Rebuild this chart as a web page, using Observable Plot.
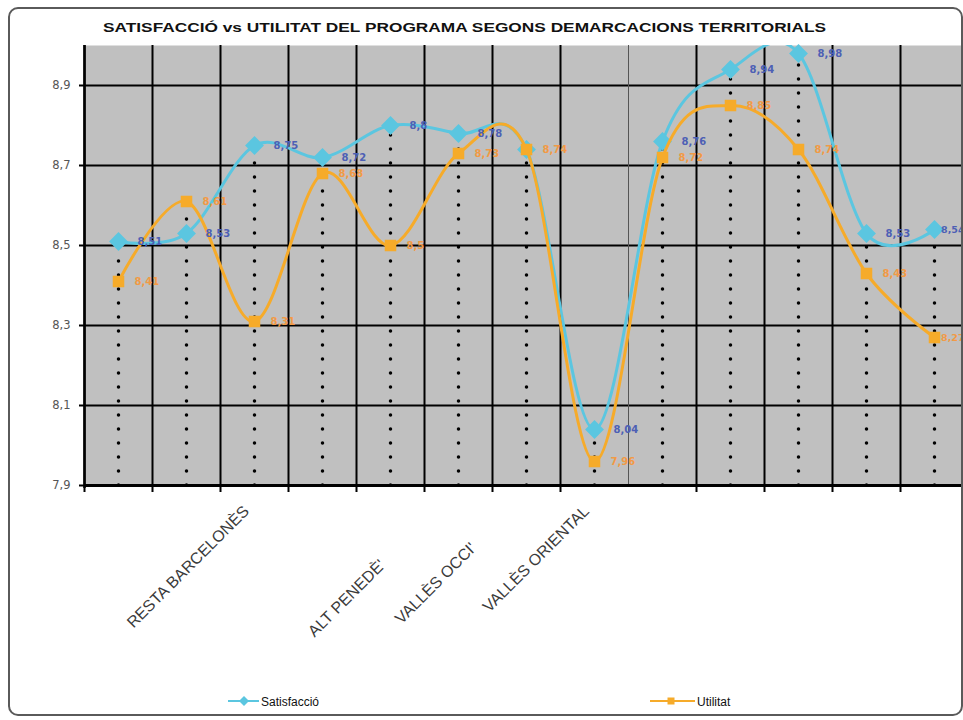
<!DOCTYPE html>
<html>
<head>
<meta charset="utf-8">
<script src="https://cdn.jsdelivr.net/npm/d3@7"></script>
<script src="https://cdn.jsdelivr.net/npm/@observablehq/plot@0.6"></script>
<style>
  html, body { margin: 0; padding: 0; background: #fff; }
  #wrap { position: relative; width: 963px; height: 720px; overflow: hidden; background: #fff; }
  #chart { position: absolute; left: 0; top: 0; }
  #frame { position: absolute; left: 8px; top: 7px; width: 951px; height: 705px; border: 2px solid #5a5a5a; border-radius: 10px; pointer-events: none; }
  .overlay { position: absolute; left: 0; top: 0; pointer-events: none; }
</style>
</head>
<body>
<div id="wrap">
  <div id="chart"></div>
  <div id="frame"></div>
  <svg class="overlay" width="963" height="720" id="over"></svg>
</div>
<script>
// ---- data ----
const title = "SATISFACCIÓ vs UTILITAT DEL PROGRAMA SEGONS DEMARCACIONS TERRITORIALS";
const categoryLabels = ["", "", "RESTA BARCELONÈS", "", "ALT PENEDÈ'", "VALLÈS OCCI'", "", "VALLÈS ORIENTAL", "", "", "", "", ""];
const satisfaccio = [8.51, 8.53, 8.75, 8.72, 8.8, 8.78, 8.74, 8.04, 8.76, 8.94, 8.98, 8.53, 8.54];
const utilitat    = [8.41, 8.61, 8.31, 8.68, 8.5, 8.73, 8.74, 7.96, 8.72, 8.85, 8.74, 8.43, 8.27];
const yTicks = [7.9, 8.1, 8.3, 8.5, 8.7, 8.9];
const seriesNames = ["Satisfacció", "Utilitat"];

// ---- derived tables ----
const n = categoryLabels.length;
const idx = categoryLabels.map((_, i) => i + 1);
const sat = idx.map((c, i) => ({c, v: satisfaccio[i]}));
const uti = idx.map((c, i) => ({c, v: utilitat[i]}));
const drops = idx.map((c, i) => ({c, v: Math.max(satisfaccio[i], utilitat[i])}));
const bounds = d3.range(n + 1).map(i => i + 0.5);
const thickBounds = bounds.filter(b => b !== 8.5);
const thinBounds = bounds.filter(b => b === 8.5);
const fmt = v => String(v).replace(".", ",");
const labelRows = idx.map((c, i) => ({c, t: categoryLabels[i]})).filter(d => d.t);
// the Satisfacció label that sits under an equal Utilitat label is hidden in the original
const satLabels = sat.filter((d, i) => Math.abs(d.v - utilitat[i]) > 0.015);

const CYAN = "#5bc6e0", ORANGE = "#f6ab2a", CYAN_TXT = "#4d5fb5", ORANGE_TXT = "#f29a45";
const FONT_LBL = "'DejaVu Sans', sans-serif";

const labelMark = (name, opts) => Plot.text(labelRows.filter(d => d.t === name), {
  x: "c", y: () => 7.9, text: "t", rotate: -45, textAnchor: "end",
  fontSize: 16, fill: "#3a3a3a", fontFamily: "Arial, 'Liberation Sans', sans-serif", ...opts
});
const valueText = (data, color, dxIn) => [
  Plot.text(data.filter(d => d.c < n), {x: "c", y: "v", text: d => fmt(d.v), dx: dxIn, textAnchor: "start",
    fill: color, fontWeight: "bold", fontSize: 10, fontFamily: FONT_LBL}),
  // last category: squeezed inside the right edge
  Plot.text(data.filter(d => d.c === n), {x: "c", y: "v", text: d => fmt(d.v), dx: 30, textAnchor: "end",
    fill: color, fontWeight: "bold", fontSize: 9.5, fontFamily: FONT_LBL})
];

const chart = Plot.plot({
  width: 963,
  height: 720,
  marginLeft: 84,
  marginRight: 0,
  marginTop: 45,
  marginBottom: 235,
  style: {background: "transparent", fontFamily: FONT_LBL},
  x: {type: "linear", domain: [0.5, 13.5], range: [84, 968], label: null},
  y: {domain: [7.9, 9.0], label: null},
  marks: [
    Plot.frame({fill: "#c0c0c0", stroke: null}),
    Plot.ruleY(yTicks.slice(1), {stroke: "#000", strokeWidth: 2}),
    Plot.ruleX(thickBounds, {stroke: "#000", strokeWidth: 2, insetBottom: -7}),
    Plot.ruleX(thinBounds, {stroke: "#555", strokeWidth: 1, insetBottom: -2}),
    Plot.ruleX(drops, {x: "c", y1: () => 7.9, y2: "v", stroke: "#000", strokeWidth: 3.5,
      strokeDasharray: "0,14", strokeLinecap: "round"}),
    Plot.ruleY([7.9], {stroke: "#000", strokeWidth: 3}),
    Plot.ruleX([0.5], {stroke: "#000", strokeWidth: 2.5, insetBottom: -3}),
    Plot.axisY({ticks: yTicks, tickFormat: fmt, tickSize: 5, tickPadding: 9, stroke: "#000", label: null,
      strokeWidth: 2, fill: "#555", fontSize: 11.5, fontFamily: FONT_LBL}),
    Plot.axisX({ticks: [], label: null}),
    Plot.line(sat, {x: "c", y: "v", stroke: CYAN, strokeWidth: 3, curve: "cardinal", tension: 0, clip: true}),
    Plot.dot(sat, {x: "c", y: "v", symbol: "diamond2", r: 8.5, fill: CYAN, stroke: null}),
    Plot.line(uti, {x: "c", y: "v", stroke: ORANGE, strokeWidth: 3, curve: "cardinal", tension: 0, clip: true}),
    Plot.dot(uti, {x: "c", y: "v", symbol: "square", r: 6.5, fill: ORANGE, stroke: null}),
    ...valueText(satLabels, CYAN_TXT, 19),
    ...valueText(uti, ORANGE_TXT, 16),
    labelMark("RESTA BARCELONÈS", {dx: -8, dy: 23}),
    labelMark("ALT PENEDÈ'", {dx: -8, dy: 77}),
    labelMark("VALLÈS OCCI'", {dx: 15, dy: 60}),
    labelMark("VALLÈS ORIENTAL", {dx: -8, dy: 23})
  ]
});
document.getElementById("chart").appendChild(chart);

// ---- title and legend (real text) ----
const over = d3.select("#over");
over.append("text").attr("x", 103).attr("y", 32).attr("textLength", 723).attr("lengthAdjust", "spacingAndGlyphs")
  .attr("font-family", "Arial, 'Liberation Sans', sans-serif").attr("font-weight", "bold").attr("font-size", 13.5)
  .attr("fill", "#111").text(title);

const leg = [
  {name: seriesNames[0], color: CYAN, x1: 228, x2: 259, mx: 244, sym: "diamond"},
  {name: seriesNames[1], color: ORANGE, x1: 650, x2: 695, mx: 671, sym: "square"}
];
leg.forEach(l => {
  const g = over.append("g");
  g.append("line").attr("x1", l.x1).attr("x2", l.x2).attr("y1", 701).attr("y2", 701).attr("stroke", l.color).attr("stroke-width", 2);
  if (l.sym === "diamond") {
    g.append("path").attr("d", `M${l.mx},${701-5}L${l.mx+5},701L${l.mx},${701+5}L${l.mx-5},701Z`).attr("fill", l.color);
  } else {
    g.append("rect").attr("x", l.mx - 3.5).attr("y", 701 - 3.5).attr("width", 7).attr("height", 7).attr("fill", l.color);
  }
  g.append("text").attr("x", l.x2 + 2).attr("y", 705.5).attr("font-family", "Arial, 'Liberation Sans', sans-serif")
    .attr("font-size", 12).attr("fill", "#111").text(l.name);
});
</script>
</body>
</html>
